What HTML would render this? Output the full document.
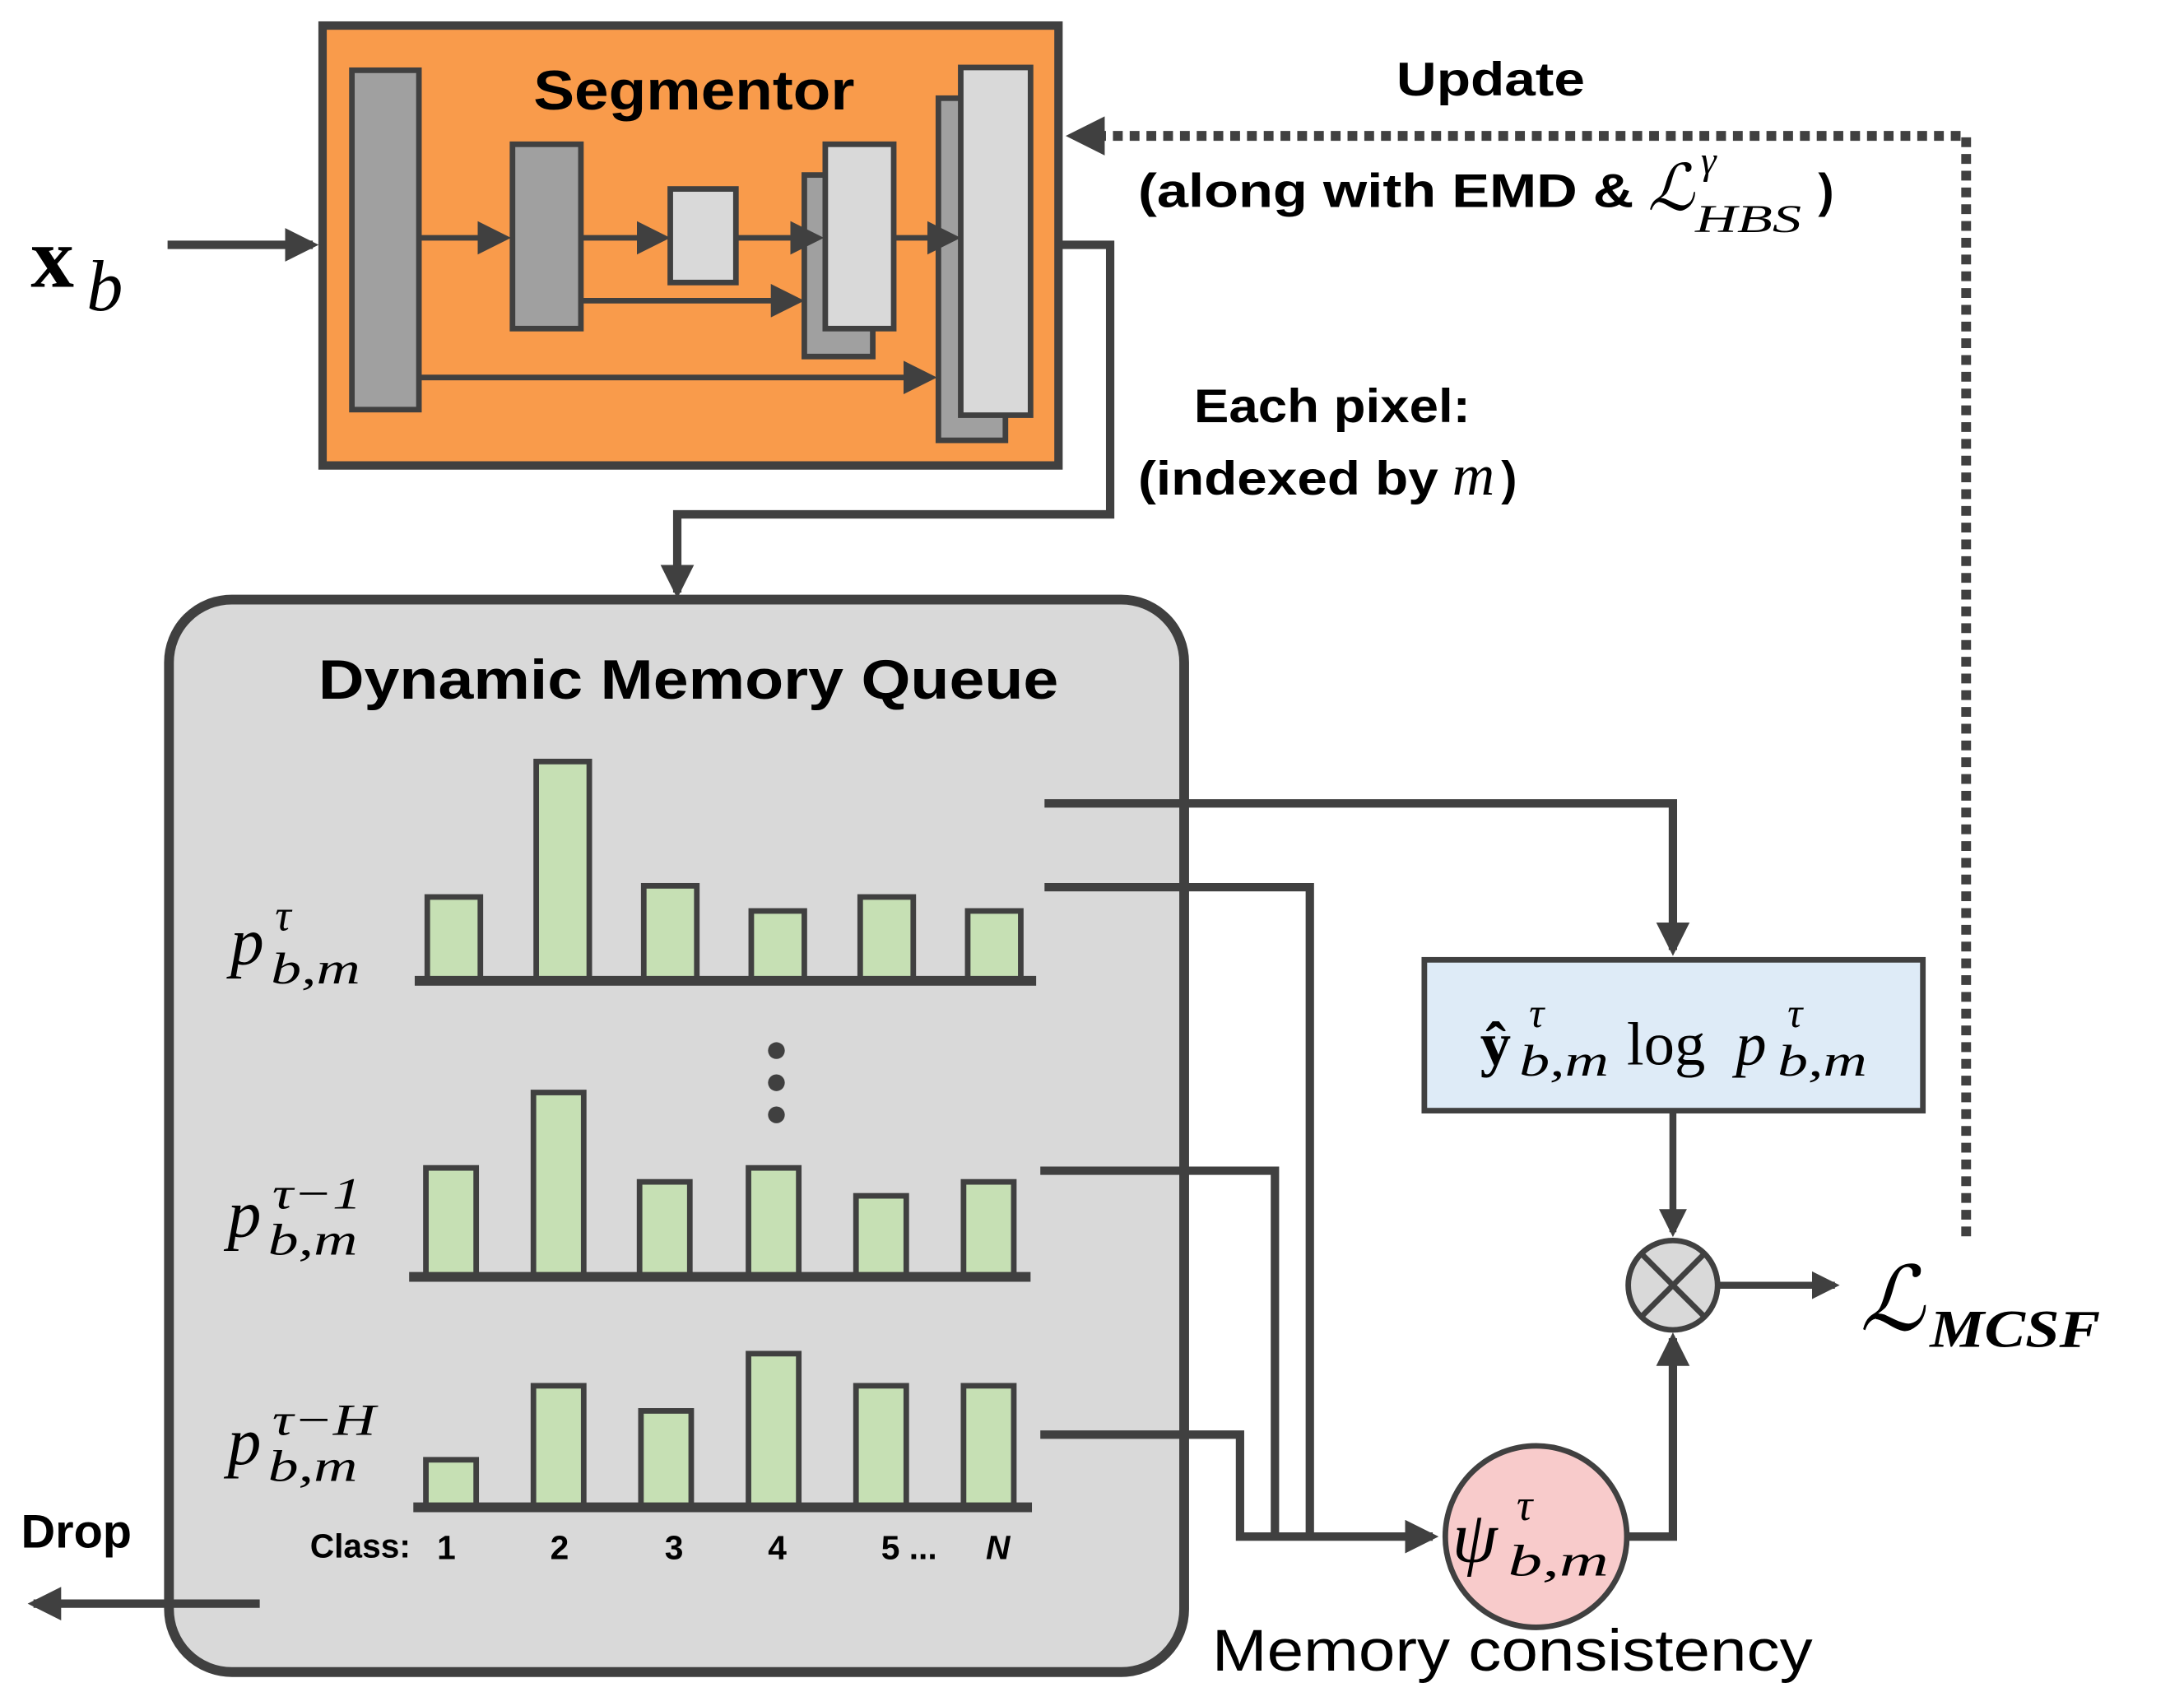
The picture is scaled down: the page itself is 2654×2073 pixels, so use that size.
<!DOCTYPE html>
<html><head><style>html,body{margin:0;padding:0;background:#fff}svg{display:block}</style></head><body>
<svg width="2654" height="2073" viewBox="0 0 1564 1221" xmlns="http://www.w3.org/2000/svg" font-family="Liberation Sans, sans-serif">
<defs>
<marker id="ah" markerWidth="6" markerHeight="6" refX="5" refY="3" orient="auto" markerUnits="strokeWidth"><path d="M0,0 L6,3 L0,6 z" fill="#404040"/></marker>
<marker id="ah2" markerWidth="4" markerHeight="4" refX="3.3" refY="2" orient="auto" markerUnits="strokeWidth"><path d="M0,0 L4,2 L0,4 z" fill="#404040"/></marker>
</defs>
<g stroke="#404040" fill="none">
<rect x="231" y="18" width="527" height="315" fill="#F99B4B" stroke-width="6"/>
<g stroke-width="4">
<rect x="252" y="50" width="48" height="243" fill="#A0A0A0"/>
<rect x="367" y="103" width="49" height="132" fill="#A0A0A0"/>
<rect x="480" y="135" width="47" height="67" fill="#D9D9D9"/>
<rect x="576" y="125" width="49" height="130" fill="#A0A0A0"/>
<rect x="591" y="103" width="49" height="132" fill="#D9D9D9"/>
<rect x="672" y="70" width="48" height="245" fill="#A0A0A0"/>
<rect x="688" y="48" width="50" height="249" fill="#D9D9D9"/>
</g>
<g stroke-width="4" marker-end="url(#ah)">
<line x1="300" y1="170" x2="362" y2="170"/>
<line x1="416" y1="170" x2="476" y2="170"/>
<line x1="527" y1="170" x2="586" y2="170"/>
<line x1="640" y1="170" x2="684" y2="170"/>
<line x1="416" y1="215" x2="572" y2="215"/>
<line x1="300" y1="270" x2="667" y2="270"/>
</g>
<line x1="120" y1="175" x2="224" y2="175" stroke-width="6" marker-end="url(#ah2)"/>
<polyline points="758,175 795,175 795,368 485,368 485,424" stroke-width="6" marker-end="url(#ah2)"/>
<polyline points="1408,885 1408,97 768,97" stroke-width="7" stroke-dasharray="7,5" marker-end="url(#ah2)"/>
<rect x="121" y="429" width="727" height="768" rx="45" fill="#D9D9D9" stroke-width="7"/>
<g stroke-width="4" fill="#C6E0B4">
<rect x="306" y="642" width="38" height="60"/><rect x="384" y="545" width="38" height="157"/><rect x="461" y="634" width="38" height="68"/><rect x="538" y="652" width="38" height="50"/><rect x="616" y="642" width="38" height="60"/><rect x="693" y="652" width="38" height="50"/>
<rect x="305" y="836" width="36" height="78"/><rect x="382" y="782" width="36" height="132"/><rect x="458" y="846" width="36" height="68"/><rect x="536" y="836" width="36" height="78"/><rect x="613" y="856" width="36" height="58"/><rect x="690" y="846" width="36" height="68"/>
<rect x="305" y="1045" width="36" height="34"/><rect x="382" y="992" width="36" height="87"/><rect x="459" y="1010" width="36" height="69"/><rect x="536" y="969" width="36" height="110"/><rect x="613" y="992" width="36" height="87"/><rect x="690" y="992" width="36" height="87"/>
</g>
<g stroke-width="7">
<line x1="297" y1="702" x2="742" y2="702"/><line x1="293" y1="914" x2="738" y2="914"/><line x1="296" y1="1079" x2="739" y2="1079"/>
</g>
<line x1="186" y1="1148" x2="24" y2="1148" stroke-width="6" marker-end="url(#ah2)"/>
<polyline points="748,575 1198,575 1198,680" stroke-width="6" marker-end="url(#ah2)"/>
<polyline points="748,635 938,635 938,1100" stroke-width="6"/>
<polyline points="745,838 913,838 913,1100" stroke-width="6"/>
<polyline points="745,1027 888,1027 888,1100 1026,1100" stroke-width="6" marker-end="url(#ah2)"/>
<rect x="1020" y="687" width="357" height="108" fill="#DEEBF7" stroke-width="4"/>
<line x1="1198" y1="795" x2="1198" y2="882" stroke-width="5" marker-end="url(#ah2)"/>
<circle cx="1198" cy="920" r="32" fill="#D9D9D9" stroke-width="4"/>
<line x1="1176" y1="898" x2="1220" y2="942" stroke-width="4"/><line x1="1220" y1="898" x2="1176" y2="942" stroke-width="4"/>
<line x1="1230" y1="920" x2="1314" y2="920" stroke-width="5" marker-end="url(#ah2)"/>
<circle cx="1100" cy="1100" r="65" fill="#F8CBCB" stroke-width="4"/>
<polyline points="1165,1100 1198,1100 1198,958" stroke-width="6" marker-end="url(#ah2)"/>
</g>
<g fill="#404040"><circle cx="556" cy="752" r="6"/><circle cx="556" cy="775" r="6"/><circle cx="556" cy="798" r="6"/></g>
<g fill="#000">
<text x="382" y="78" font-size="40" font-weight="bold" textLength="230" lengthAdjust="spacingAndGlyphs">Segmentor</text>
<text x="22" y="205" font-size="62" font-weight="bold" font-family="Liberation Serif, serif">x</text>
<text x="62" y="222" font-size="52" font-style="italic" font-family="Liberation Serif, serif">b</text>
<text x="1000" y="68" font-size="34" font-weight="bold" textLength="135" lengthAdjust="spacingAndGlyphs">Update</text>
<text x="815" y="148" font-size="34" font-weight="bold" textLength="355" lengthAdjust="spacingAndGlyphs">(along with EMD &amp;</text>
<g font-family="Liberation Serif, serif" font-style="italic">
<text x="1180" y="150" font-size="46">ℒ</text>
<text x="1218" y="124" font-size="28">γ</text>
<text x="1214" y="166" font-size="28" textLength="76" lengthAdjust="spacingAndGlyphs">HBS</text>
</g>
<text x="1302" y="148" font-size="34" font-weight="bold">)</text>
<text x="855" y="302" font-size="34" font-weight="bold" textLength="198" lengthAdjust="spacingAndGlyphs">Each pixel:</text>
<text x="815" y="354" font-size="34" font-weight="bold" textLength="215" lengthAdjust="spacingAndGlyphs">(indexed by</text>
<text x="1040" y="354" font-size="42" font-style="italic" font-family="Liberation Serif, serif">m</text>
<text x="1075" y="354" font-size="34" font-weight="bold">)</text>
<text x="228" y="500" font-size="40" font-weight="bold" textLength="530" lengthAdjust="spacingAndGlyphs">Dynamic Memory Queue</text>
<g font-family="Liberation Serif, serif" font-style="italic">
<text x="165" y="690" font-size="48">p</text><text x="197" y="666" font-size="32">τ</text><text x="194" y="704" font-size="32" textLength="64" lengthAdjust="spacingAndGlyphs">b,m</text>
<text x="163" y="885" font-size="48">p</text><text x="195" y="865" font-size="32" textLength="64" lengthAdjust="spacingAndGlyphs">τ−1</text><text x="192" y="898" font-size="32" textLength="64" lengthAdjust="spacingAndGlyphs">b,m</text>
<text x="163" y="1048" font-size="48">p</text><text x="195" y="1027" font-size="32" textLength="74" lengthAdjust="spacingAndGlyphs">τ−H</text><text x="192" y="1060" font-size="32" textLength="64" lengthAdjust="spacingAndGlyphs">b,m</text>
</g>
<g font-size="24" font-weight="bold">
<text x="222" y="1115">Class:</text><text x="313" y="1116">1</text><text x="394" y="1116">2</text><text x="476" y="1116">3</text><text x="550" y="1116">4</text><text x="631" y="1116">5 ...</text><text x="706" y="1116" font-style="italic">N</text>
</g>
<text x="15" y="1108" font-size="34" font-weight="bold">Drop</text>
<g font-family="Liberation Serif, serif">
<text x="1060" y="762" font-size="44" font-weight="bold">ŷ</text>
<text x="1095" y="735" font-size="30" font-style="italic">τ</text>
<text x="1088" y="770" font-size="32" font-style="italic" textLength="64" lengthAdjust="spacingAndGlyphs">b,m</text>
<text x="1165" y="762" font-size="44">log</text>
<text x="1243" y="762" font-size="44" font-style="italic">p</text>
<text x="1280" y="735" font-size="30" font-style="italic">τ</text>
<text x="1273" y="770" font-size="32" font-style="italic" textLength="64" lengthAdjust="spacingAndGlyphs">b,m</text>
<text x="1332" y="952" font-size="64" font-style="italic">ℒ</text>
<text x="1382" y="964" font-size="38" font-weight="bold" font-style="italic" textLength="122" lengthAdjust="spacingAndGlyphs">MCSF</text>
<text x="1040" y="1118" font-size="52" font-style="italic">ψ</text>
<text x="1086" y="1088" font-size="32" font-style="italic">τ</text>
<text x="1080" y="1128" font-size="32" font-style="italic" textLength="72" lengthAdjust="spacingAndGlyphs">b,m</text>
</g>
<text x="868" y="1196" font-size="42" textLength="430" lengthAdjust="spacingAndGlyphs">Memory consistency</text>
</g>
</svg>
</body></html>
